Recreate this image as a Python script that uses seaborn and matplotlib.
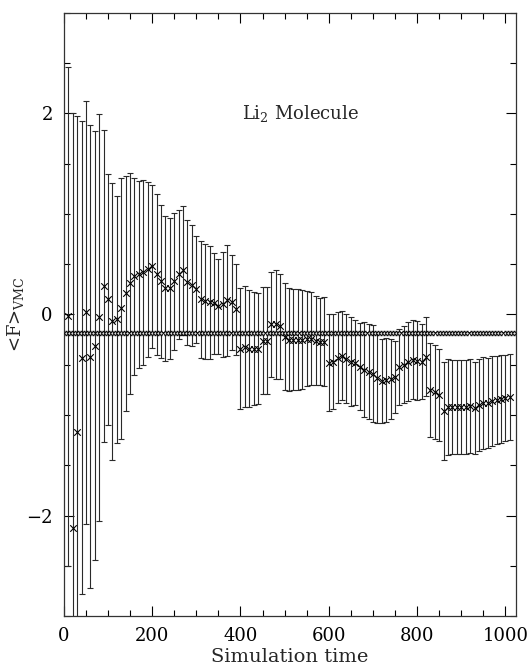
import numpy as np
import matplotlib
matplotlib.use('Agg')
import matplotlib.pyplot as plt
from matplotlib.ticker import MultipleLocator
import seaborn as sns

# noisy VMC estimate, one point every 10 time units
times = list(range(10, 1011, 10))
f_mean = [-0.02, -2.12, -1.17, -0.43, 0.02, -0.42, -0.31, -0.03, 0.28, 0.15,
          -0.07, -0.05, 0.06, 0.21, 0.31, 0.38, 0.40, 0.42, 0.45, 0.48,
          0.40, 0.33, 0.26, 0.26, 0.33, 0.40, 0.44, 0.32, 0.29, 0.25,
          0.15, 0.13, 0.12, 0.11, 0.08, 0.10, 0.14, 0.12, 0.05, -0.34,
          -0.32, -0.34, -0.34, -0.34, -0.26, -0.26, -0.10, -0.10, -0.12, -0.22,
          -0.25, -0.25, -0.25, -0.25, -0.24, -0.24, -0.26, -0.27, -0.27, -0.48,
          -0.47, -0.43, -0.41, -0.44, -0.47, -0.48, -0.52, -0.55, -0.57, -0.59,
          -0.63, -0.66, -0.65, -0.64, -0.62, -0.52, -0.50, -0.47, -0.45, -0.46,
          -0.47, -0.42, -0.75, -0.77, -0.80, -0.96, -0.92, -0.92, -0.92, -0.92,
          -0.92, -0.91, -0.93, -0.90, -0.88, -0.88, -0.86, -0.85, -0.84, -0.83,
          -0.82]
f_err = [2.48, 4.12, 3.14, 2.35, 2.10, 2.30, 2.13, 2.02, 1.55, 1.25,
         1.38, 1.23, 1.30, 1.17, 1.10, 0.98, 0.93, 0.92, 0.87, 0.81,
         0.80, 0.76, 0.72, 0.70, 0.68, 0.64, 0.64, 0.62, 0.60, 0.53,
         0.58, 0.57, 0.56, 0.50, 0.47, 0.52, 0.55, 0.47, 0.45, 0.60,
         0.60, 0.58, 0.56, 0.55, 0.53, 0.53, 0.52, 0.54, 0.52, 0.53,
         0.51, 0.50, 0.50, 0.49, 0.47, 0.46, 0.44, 0.43, 0.44, 0.48,
         0.47, 0.45, 0.44, 0.44, 0.44, 0.42, 0.43, 0.47, 0.47, 0.48,
         0.45, 0.42, 0.42, 0.40, 0.36, 0.38, 0.38, 0.39, 0.39, 0.39,
         0.37, 0.39, 0.47, 0.47, 0.46, 0.49, 0.48, 0.47, 0.47, 0.47,
         0.47, 0.47, 0.46, 0.46, 0.46, 0.45, 0.45, 0.44, 0.44, 0.43,
         0.43]

# converged estimate, sampled more densely
flat_times = list(range(4, 1020, 7))
flat_mean = [-0.18] * len(flat_times)
flat_err = [0.02] * len(flat_times)

sns.set_style('ticks')
plt.rcParams['font.family'] = ['DejaVu Serif']
plt.rcParams['mathtext.fontset'] = 'dejavuserif'

fig = plt.figure(figsize=(5.32, 6.69), dpi=100)
ax = fig.add_axes([0.120, 0.079, 0.850, 0.902])

# error bars of the noisy run
ax.errorbar(times, f_mean, yerr=f_err, fmt='none', ecolor='#2a2a2a',
            elinewidth=0.8, capsize=2.5, capthick=0.8, zorder=2)
sns.scatterplot(x=times, y=f_mean, marker='x', s=22, color='black',
                linewidth=0.8, ax=ax, zorder=3)

# flat line with tiny error bars
ax.errorbar(flat_times, flat_mean, yerr=flat_err, fmt='none', ecolor='black',
            elinewidth=0.6, capsize=1, zorder=4)
ax.plot(flat_times, flat_mean, color='black', lw=1.2, zorder=4)
sns.scatterplot(x=flat_times, y=flat_mean, marker='D', s=4, color='#dddddd',
                edgecolor='black', linewidth=0.6, ax=ax, zorder=5)

ax.text(403, 2.0, 'Li$_2$ Molecule', fontsize=13, va='center', ha='left')

ax.set_xlim(0, 1024)
ax.set_ylim(-3, 3)
ax.xaxis.set_major_locator(MultipleLocator(200))
ax.xaxis.set_minor_locator(MultipleLocator(50))
ax.yaxis.set_major_locator(MultipleLocator(2))
ax.yaxis.set_minor_locator(MultipleLocator(0.5))
ax.tick_params(which='both', direction='in', top=True, right=True,
               colors='black', width=0.8)
ax.tick_params(which='major', length=7, labelsize=13, pad=8)
ax.tick_params(which='minor', length=4)
for sp in ax.spines.values():
    sp.set_visible(True)
    sp.set_linewidth(0.9)
    sp.set_color('#333333')

ax.set_xlabel('Simulation time', fontsize=14, labelpad=2)
ax.set_ylabel(r'<F>$_{\mathrm{VMC}}$', fontsize=13, labelpad=0)

fig.savefig('out.png', dpi=100)
